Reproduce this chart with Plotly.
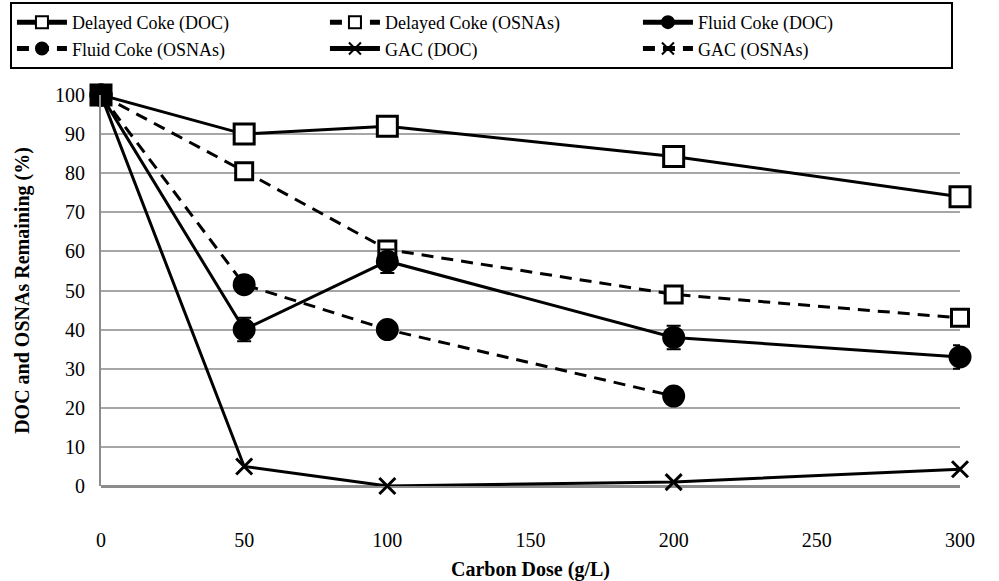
import plotly.graph_objects as go

dose = [0, 50, 100, 200, 300]
dose_fc_osnas = [0, 50, 100, 200]
dose_gac_osnas = [0]

delayed_doc = [100, 90, 92, 84.3, 74]
delayed_osnas = [100, 80.5, 60.5, 49, 43]
fluid_doc = [100, 40, 57.5, 38, 33]
fluid_doc_err = [0, 3, 3, 3, 3]
fluid_osnas = [100, 51.5, 40, 23]
gac_doc = [100, 5, 0, 1, 4.3]
gac_osnas = [100]

x_ticks = [0, 50, 100, 150, 200, 250, 300]
y_ticks = [0, 10, 20, 30, 40, 50, 60, 70, 80, 90, 100]

FONT = "Liberation Serif"
fig = go.Figure()

def add(name, x, y, symbol, fill, dash, err=None, size=19):
    fig.add_trace(go.Scatter(
        x=x, y=y, name=name, mode="lines+markers", cliponaxis=False,
        line=dict(color="black", width=3, dash=dash),
        marker=dict(symbol=symbol, size=size, color=fill,
                    line=dict(color="black", width=3)),
        error_y=(dict(type="data", array=err, visible=True, color="black",
                      thickness=2, width=7) if err else None),
    ))

add("Delayed Coke (DOC)", dose, delayed_doc, "square", "white", "solid", size=20)
add("Delayed Coke (OSNAs)", dose, delayed_osnas, "square", "white", "12px,8px", size=17)
add("Fluid Coke (DOC)", dose, fluid_doc, "circle", "black", "solid", err=fluid_doc_err, size=20)
add("Fluid Coke (OSNAs)", dose_fc_osnas, fluid_osnas, "circle", "black", "12px,8px", size=20)
add("GAC (DOC)", dose, gac_doc, "x-thin", "black", "solid", size=16)
add("GAC (OSNAs)", dose_gac_osnas, gac_osnas, "x-thin", "black", "12px,8px", size=16)

fig.update_layout(
    width=999, height=581,
    margin=dict(l=101, r=39, t=95, b=95, autoexpand=False),
    plot_bgcolor="white", paper_bgcolor="white",
    font=dict(family=FONT, color="black", size=20),
    showlegend=True,
    legend=dict(
        orientation="h", x=-0.106, y=1.238, xanchor="left", yanchor="top",
        bordercolor="black", borderwidth=2, bgcolor="white",
        font=dict(family=FONT, size=18), entrywidth=248, entrywidthmode="pixels",
        itemwidth=50, tracegroupgap=0, itemsizing="constant",
    ),
    xaxis=dict(
        range=[0, 300], tickvals=x_ticks, showgrid=False, zeroline=False,
        showline=False, ticks="", ticklabelstandoff=40,
        title=dict(text="<b>Carbon Dose (g/L)</b>", font=dict(size=20), standoff=15),
    ),
    yaxis=dict(
        range=[0, 100], tickvals=y_ticks, showgrid=True, gridcolor="#a6a6a6",
        gridwidth=2, zeroline=True, zerolinecolor="#8c8c8c", zerolinewidth=3,
        showline=True, linecolor="#8c8c8c", linewidth=2, ticks="",
        ticklabelstandoff=10,
        title=dict(text="<b>DOC and OSNAs Remaining (%)</b>", font=dict(size=20), standoff=20),
    ),
)

fig.write_html("out.html")
